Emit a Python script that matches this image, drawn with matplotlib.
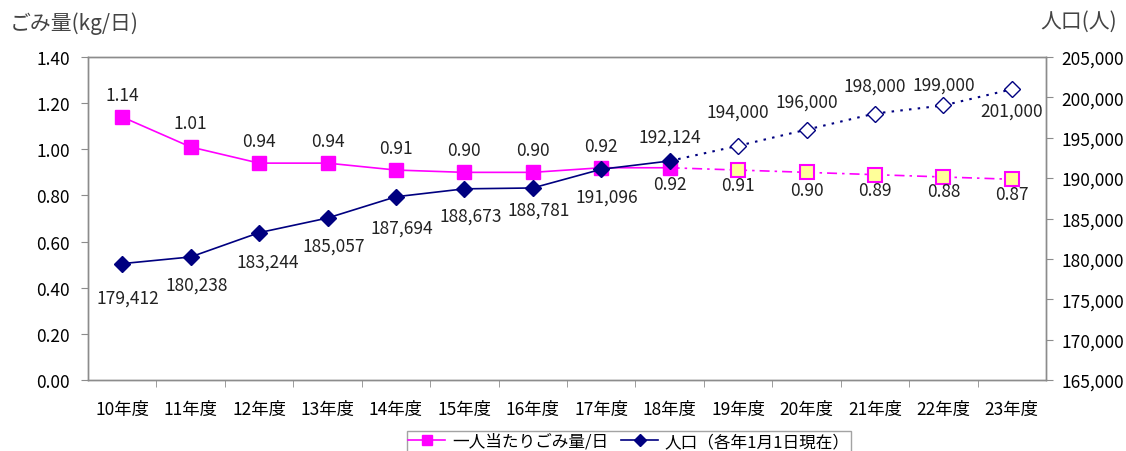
import matplotlib
matplotlib.use('Agg')
from matplotlib import pyplot as plt
from matplotlib.lines import Line2D

plt.rcParams['font.family'] = ['Noto Sans CJK JP', 'DejaVu Sans']

# fiscal years
years = ['10年度', '11年度', '12年度', '13年度', '14年度', '15年度', '16年度',
         '17年度', '18年度', '19年度', '20年度', '21年度', '22年度', '23年度']
# per-capita waste (kg/day); from index 8 onward is forecast
waste = [1.14, 1.01, 0.94, 0.94, 0.91, 0.90, 0.90, 0.92, 0.92,
         0.91, 0.90, 0.89, 0.88, 0.87]
# population (as of Jan 1)
population = [179412, 180238, 183244, 185057, 187694, 188673, 188781, 191096, 192124,
              194000, 196000, 198000, 199000, 201000]
last_actual = 8

pink = '#ff00ff'
navy = '#000080'
grey = '#8c8c8c'

# label offsets in pixels (dy > 0 means downward)
waste_dy = [-22, -24, -22, -22, -22, -22, -22, -22, 16, 15, 18, 15, 14, 15]
pop_dy = [34, 28, 29, 28, 31, 27, 22, 27, -24, -34, -28, -28, -21, 21]
pop_dx = [6, 6, 9, 6, 6, 6, 6, 6, 0, 0, 0, 0, 0, 0]

fig = plt.figure(figsize=(11.26, 4.52), dpi=100)
ax = fig.add_axes([88 / 1126, 1 - 381 / 452, (1046 - 88) / 1126, (381 - 58) / 452])
ax2 = ax.twinx()

x = list(range(len(years)))
xa = x[:last_actual + 1]
xf = x[last_actual:]

# waste line
ax.plot(xa, waste[:last_actual + 1], color=pink, lw=1.2, marker='s', ms=10,
        mfc=pink, mec=pink, zorder=3)
ax.plot(xf, waste[last_actual:], color=pink, lw=1.2, ls=(0, (6, 3, 1.5, 3)), zorder=2)
ax.plot(xf[1:], waste[last_actual + 1:], ls='none', marker='s', ms=10,
        mfc='#ffff99', mec=pink, mew=1.5, zorder=3)

# population line
ax2.plot(xa, population[:last_actual + 1], color=navy, lw=1.2, marker='D', ms=8,
         mfc=navy, mec=navy, zorder=3)
ax2.plot(xf, population[last_actual:], color=navy, lw=1.5, ls=(0, (1.2, 3)), zorder=2)
ax2.plot(xf[1:], population[last_actual + 1:], ls='none', marker='D', ms=8,
         mfc='white', mec=navy, mew=1.0, zorder=3)

for i, v in enumerate(waste):
    ax.annotate('%.2f' % v, (i, v), xytext=(0, -waste_dy[i]), textcoords='offset pixels',
                ha='center', va='center', fontsize=12.5, color='#222222')
for i, v in enumerate(population):
    ax2.annotate('{:,}'.format(v), (i, v), xytext=(pop_dx[i], -pop_dy[i]),
                 textcoords='offset pixels', ha='center', va='center',
                 fontsize=12.5, color='#222222')

ax.set_xlim(-0.5, len(years) - 0.5)
ax.set_ylim(0, 1.4)
ax.set_yticks([i * 0.2 for i in range(8)])
ax.set_yticklabels(['%.2f' % (i * 0.2) for i in range(8)])
ax2.set_ylim(165000, 205000)
ax2.set_yticks(range(165000, 205001, 5000))
ax2.set_yticklabels(['{:,}'.format(t) for t in range(165000, 205001, 5000)])

ax.set_xticks(x)
ax.set_xticklabels(years)
ax.set_xticks([i + 0.5 for i in x[:-1]], minor=True)
ax.tick_params(axis='x', which='major', length=0, pad=14, labelsize=12.5)
ax.tick_params(axis='x', which='minor', length=5, direction='out', color=grey)
ax.tick_params(axis='y', length=5, direction='out', color=grey, labelsize=12.5, pad=8)
ax2.tick_params(axis='y', length=5, direction='out', color=grey, labelsize=12.5, pad=6)

for a in (ax, ax2):
    for s in a.spines.values():
        s.set_color(grey)
        s.set_linewidth(1.0)

fig.text(10 / 1126, 1 - 24 / 452, 'ごみ量(kg/日)', fontsize=15, ha='left', va='center',
         color='#444444')
fig.text(1117 / 1126, 1 - 22 / 452, '人口(人)', fontsize=15, ha='right', va='center',
         color='#444444')

handles = [Line2D([], [], color=pink, lw=1.2, marker='s', ms=7, mfc=pink, mec=pink),
           Line2D([], [], color=navy, lw=1.2, marker='D', ms=6, mfc=navy, mec=navy)]
leg = fig.legend(handles, ['一人当たりごみ量/日', '人口（各年1月1日現在）'],
                 loc='upper center', bbox_to_anchor=(629 / 1126, 1 - 424 / 452),
                 ncol=2, fontsize=12, frameon=True, fancybox=False,
                 handlelength=2.2, handletextpad=0.4, columnspacing=0.8,
                 borderpad=0.1)
leg.get_frame().set_edgecolor(grey)
leg.get_frame().set_linewidth(1.0)

fig.savefig('out.png', dpi=100)
